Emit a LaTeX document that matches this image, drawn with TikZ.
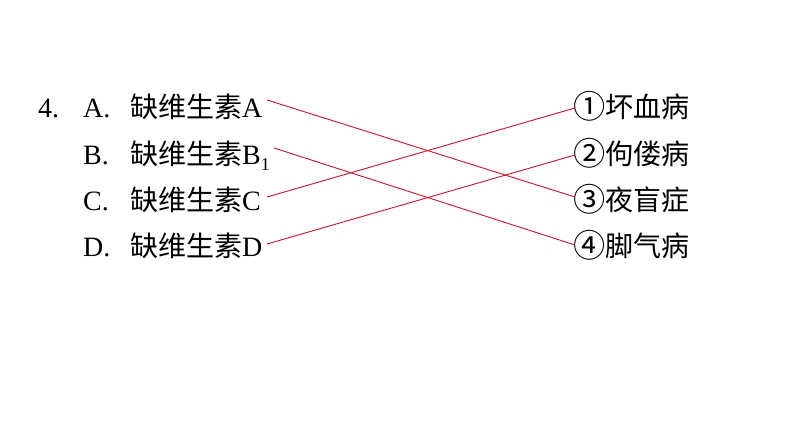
\documentclass[tikz,border=0pt]{standalone}
\usepackage{fontspec}
\setmainfont{Liberation Serif}
\newfontfamily\cjk{Noto Sans CJK SC}
\definecolor{linkred}{RGB}{200,20,40}
\newcommand{\circnum}[1]{\raisebox{-1.5pt}{\scalebox{1.15}{#1}}}
\begin{document}
\begin{tikzpicture}[x=1pt,y=-1pt,
  lbl/.style={anchor=base west,inner sep=0pt,font=\fontsize{28}{32}\selectfont},
  link/.style={draw=linkred,line width=0.9pt}]
\useasboundingbox (0,0) rectangle (794,447);
% left column
\node[lbl] (n4) at (38,117) {4.};
\node[lbl] (la) at (83,117) {A.};
\node[lbl] (ta) at (130,117) {{\cjk 缺维生素}A};
\node[lbl] (lb) at (83,164) {B.};
\node[lbl] (tb) at (130,164) {{\cjk 缺维生素}B\raisebox{-6.5pt}{\fontsize{18}{18}\selectfont 1}};
\node[lbl] (lc) at (83,210) {C.};
\node[lbl] (tc) at (130,210) {{\cjk 缺维生素}C};
\node[lbl] (ld) at (83,256) {D.};
\node[lbl] (td) at (130,256) {{\cjk 缺维生素}D};
% right column
\node[lbl] (r1) at (573,117) {\cjk \circnum{①}坏血病};
\node[lbl] (r2) at (573,164) {\cjk \circnum{②}佝偻病};
\node[lbl] (r3) at (573,210) {\cjk \circnum{③}夜盲症};
\node[lbl] (r4) at (573,256) {\cjk \circnum{④}脚气病};
% connector ends
\coordinate (pa) at (267,100);
\coordinate (pb) at (274,148);
\coordinate (pc) at (267,197);
\coordinate (pd) at (267,244);
\coordinate (q1) at (575,108);
\coordinate (q2) at (575,155);
\coordinate (q3) at (575,197);
\coordinate (q4) at (575,245);
\draw[link] (pa) -- (q3);
\draw[link] (pb) -- (q4);
\draw[link] (pc) -- (q1);
\draw[link] (pd) -- (q2);
\end{tikzpicture}
\end{document}
